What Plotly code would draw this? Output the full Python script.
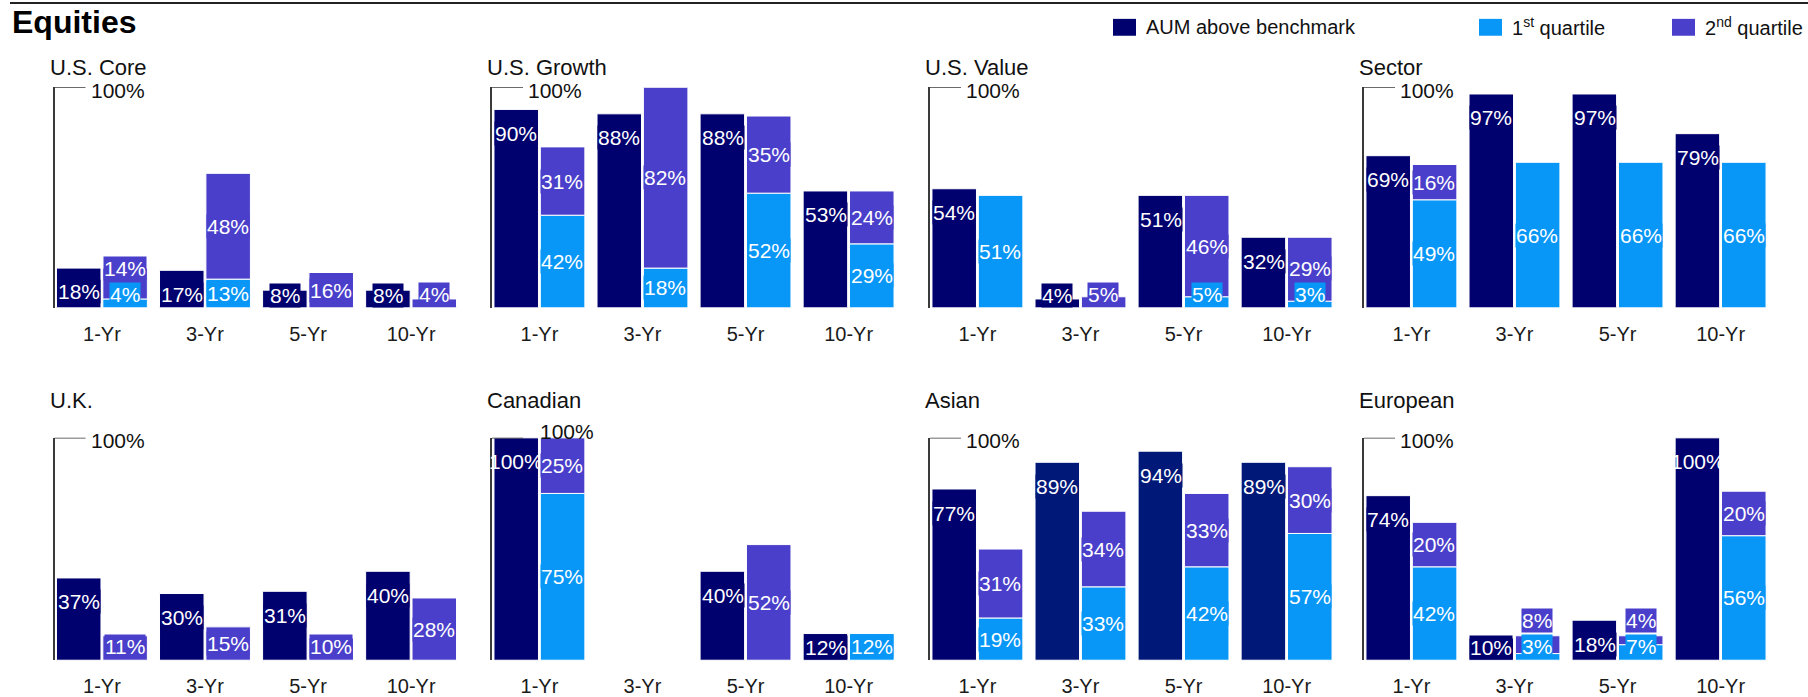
import plotly.graph_objects as go
from plotly.subplots import make_subplots

periods = ["1-Yr", "3-Yr", "5-Yr", "10-Yr"]

# % of AUM above benchmark, % in 1st quartile, % in 2nd quartile
us_core_aum = [18, 17, 8, 8]
us_core_q1 = [4, 13, 0, 0]
us_core_q2 = [14, 48, 16, 4]

us_growth_aum = [90, 88, 88, 53]
us_growth_q1 = [42, 18, 52, 29]
us_growth_q2 = [31, 82, 35, 24]

us_value_aum = [54, 4, 51, 32]
us_value_q1 = [51, 0, 5, 3]
us_value_q2 = [0, 5, 46, 29]

sector_aum = [69, 97, 97, 79]
sector_q1 = [49, 66, 66, 66]
sector_q2 = [16, 0, 0, 0]

uk_aum = [37, 30, 31, 40]
uk_q1 = [0, 0, 0, 0]
uk_q2 = [11, 15, 10, 28]

canadian_aum = [100, 0, 40, 12]
canadian_q1 = [75, 0, 0, 12]
canadian_q2 = [25, 0, 52, 0]

asian_aum = [77, 89, 94, 89]
asian_q1 = [19, 33, 42, 57]
asian_q2 = [31, 34, 33, 30]

european_aum = [74, 10, 18, 100]
european_q1 = [42, 3, 7, 56]
european_q2 = [20, 8, 4, 20]

panels = [
    ("U.S. Core", us_core_aum, us_core_q1, us_core_q2),
    ("U.S. Growth", us_growth_aum, us_growth_q1, us_growth_q2),
    ("U.S. Value", us_value_aum, us_value_q1, us_value_q2),
    ("Sector", sector_aum, sector_q1, sector_q2),
    ("U.K.", uk_aum, uk_q1, uk_q2),
    ("Canadian", canadian_aum, canadian_q1, canadian_q2),
    ("Asian", asian_aum, asian_q1, asian_q2),
    ("European", european_aum, european_q1, european_q2),
]

NAVY = "#00006E"
NAVY2 = "#001878"
LIGHT = "#0897F7"
PURPLE = "#4A3FCA"
FONT = "Liberation Sans, Arial, sans-serif"

W, H = 1808, 697
col_left = [54.5, 492, 930, 1364]
col_width = 404
row_top = [88, 441]
row_base = [310, 665]
title_y = [68, 403]

# the Canadian 100% bar sits on the bracket, so its label is nudged
bracket_label_dx = {"Canadian": 46}
bracket_label_dy = {"Canadian": 9}

fig = make_subplots(rows=2, cols=4)

box = 12  # label box height in % units (about 26px)


def label(text, xa, ya, p, dx, y, color):
    # two digit labels get a filled box like the original, "100%" is left bare
    return dict(
        text=text, xref=xa, yref=ya, x=p, xshift=dx, y=y, showarrow=False,
        borderpad=0, bgcolor=color if len(text) <= 3 else None,
        font=dict(size=21, color="white", family=FONT),
    )


annotations = []
shapes = []
for i, (name, aum, q1, q2) in enumerate(panels):
    r, c = i // 4, i % 4
    n = i + 1
    xa = "x" if n == 1 else f"x{n}"
    ya = "y" if n == 1 else f"y{n}"

    navy_colors = [NAVY, NAVY2, NAVY2, NAVY2] if name == "Asian" else [NAVY] * 4
    fig.add_trace(
        go.Bar(
            name="AUM above benchmark",
            x=periods,
            y=[v or None for v in aum],
            marker=dict(color=navy_colors, line=dict(color="white", width=1)),
            offsetgroup="aum",
            showlegend=False,
        ),
        row=r + 1, col=c + 1,
    )
    fig.add_trace(
        go.Bar(
            name="1st quartile",
            x=periods,
            y=[v or None for v in q1],
            marker=dict(color=LIGHT, line=dict(color="white", width=1)),
            offsetgroup="q",
            showlegend=False,
        ),
        row=r + 1, col=c + 1,
    )
    fig.add_trace(
        go.Bar(
            name="2nd quartile",
            x=periods,
            y=[v or None for v in q2],
            base=q1,
            marker=dict(color=PURPLE, line=dict(color="white", width=1)),
            offsetgroup="q",
            showlegend=False,
        ),
        row=r + 1, col=c + 1,
    )

    x0 = col_left[c] / W
    x1 = (col_left[c] + col_width) / W
    y0 = 1 - row_base[r] / H
    y1 = 1 - row_top[r] / H
    fig.update_xaxes(
        domain=[x0, x1], range=[-0.46, 3.46], showline=False, showgrid=False,
        ticks="outside", ticklen=8, tickcolor="rgba(0,0,0,0)",
        tickfont=dict(size=20, color="#1a1a1a", family=FONT),
        row=r + 1, col=c + 1,
    )
    fig.update_yaxes(
        domain=[y0, y1], range=[0, 100], showline=True, linecolor="#3a3a3a",
        linewidth=1.5, showgrid=False, zeroline=False, showticklabels=False,
        ticks="", row=r + 1, col=c + 1,
    )

    # panel title
    annotations.append(dict(
        text=name, xref="paper", yref="paper", x=(col_left[c] - 7) / W,
        y=1 - title_y[r] / H, xanchor="left", yanchor="middle", showarrow=False,
        font=dict(size=22, color="#111", family=FONT),
    ))
    # 100% bracket
    shapes.append(dict(
        type="line", xref=f"{xa} domain", yref=ya, x0=0, x1=31 / col_width,
        y0=100, y1=100, line=dict(color="#3a3a3a", width=1.5),
    ))
    annotations.append(dict(
        text="100%", xref=f"{xa} domain", yref=ya,
        x=bracket_label_dx.get(name, 34) / col_width, y=100,
        xanchor="left", yanchor="middle",
        yshift=-3 + bracket_label_dy.get(name, 0), showarrow=False,
        font=dict(size=21, color="#111", family=FONT),
    ))

    # value labels
    for k, p in enumerate(periods):
        if aum[k]:
            annotations.append(label(
                f"{aum[k]}%", xa, ya, p, -23, max(aum[k] - 10.8, 5.5), navy_colors[k]
            ))
        c1 = 0
        if q1[k]:
            c1 = max(q1[k] / 2, box / 2)
            annotations.append(label(f"{q1[k]}%", xa, ya, p, 23, c1, LIGHT))
        if q2[k]:
            floor = c1 + box if q1[k] else box / 2
            annotations.append(label(
                f"{q2[k]}%", xa, ya, p, 23, max(q1[k] + q2[k] / 2, floor), PURPLE
            ))

# header
annotations.append(dict(
    text="<b>Equities</b>", xref="paper", yref="paper", x=10 / W, y=1 - 22 / H,
    xanchor="left", yanchor="middle", showarrow=False,
    font=dict(size=32, color="black", family=FONT),
))
shapes.append(dict(
    type="line", xref="paper", yref="paper", x0=10 / W, x1=1,
    y0=1 - 3 / H, y1=1 - 3 / H, line=dict(color="#222", width=2),
))

# legend (drawn by hand to match the layout of the original)
legend_items = [
    (NAVY, "AUM above benchmark", 1113),
    (LIGHT, "1<sup>st</sup> quartile", 1479),
    (PURPLE, "2<sup>nd</sup> quartile", 1672),
]
for color, text, left in legend_items:
    shapes.append(dict(
        type="rect", xref="paper", yref="paper", x0=left / W, x1=(left + 23) / W,
        y0=1 - 36 / H, y1=1 - 19 / H, fillcolor=color, line=dict(width=0),
    ))
    annotations.append(dict(
        text=text, xref="paper", yref="paper", x=(left + 31) / W, y=1 - 27 / H,
        xanchor="left", yanchor="middle", showarrow=False,
        font=dict(size=20, color="#111", family=FONT),
    ))

fig.update_layout(
    width=W, height=H,
    margin=dict(l=0, r=0, t=0, b=0),
    barmode="group", bargap=0.1, bargroupgap=0.04,
    plot_bgcolor="white", paper_bgcolor="white",
    font=dict(family=FONT),
    annotations=annotations, shapes=shapes,
    showlegend=False,
)

fig.write_html(
    "out.html",
    config={"displayModeBar": False},
    post_script="document.body.style.margin='0px';document.body.style.overflow='hidden';",
)
